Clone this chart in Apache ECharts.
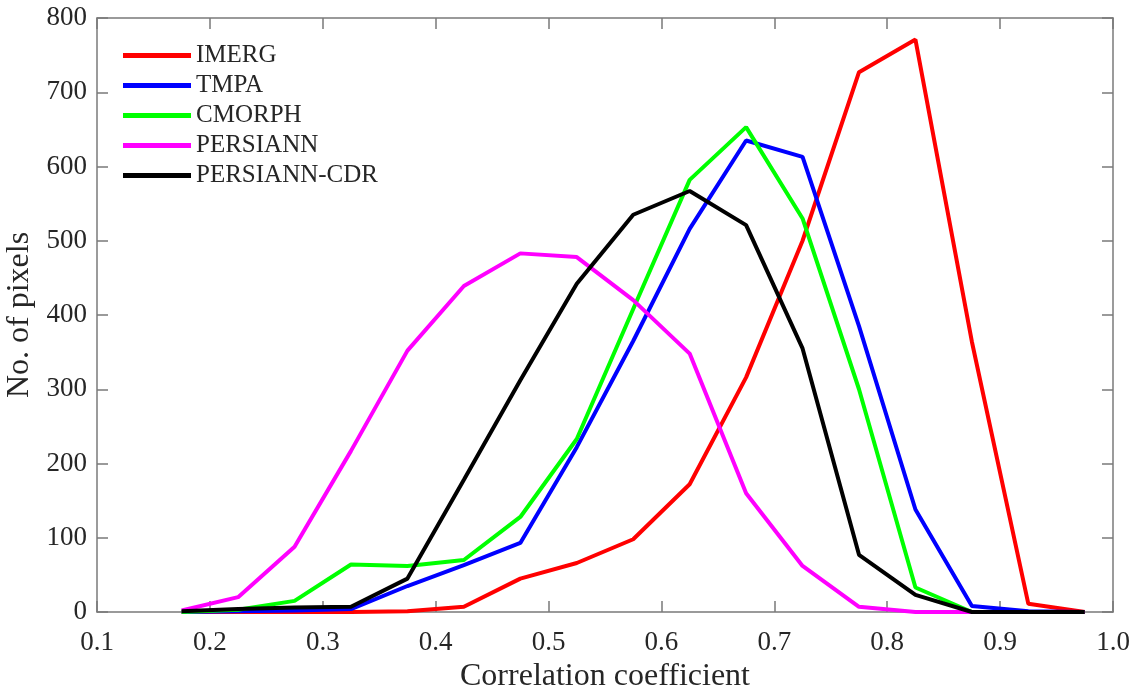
<!DOCTYPE html>
<html>
<head>
<meta charset="UTF-8">
<title>Correlation coefficient</title>
<style>
  html, body { margin: 0; padding: 0; background: #fff; }
  #main { width: 1139px; height: 693px; }
</style>
</head>
<body>
<div id="main"></div>
<script src="https://cdn.jsdelivr.net/npm/echarts@6/dist/echarts.min.js"></script>
<script>
// bin centres
var binCentres = [0.175, 0.225, 0.275, 0.325, 0.375, 0.425, 0.475, 0.525, 0.575,
                  0.625, 0.675, 0.725, 0.775, 0.825, 0.875, 0.925, 0.975];

var seriesNames = ['IMERG', 'TMPA', 'CMORPH', 'PERSIANN', 'PERSIANN-CDR'];
var seriesColors = ['#ff0000', '#0000ff', '#00ff00', '#ff00ff', '#000000'];

var imerg       = [0, 0, 0, 0, 1, 7, 45, 66, 98, 172, 316, 500, 727, 771, 364, 11, 0];
var tmpa        = [0, 1, 2, 4, 35, 63, 93, 222, 365, 516, 635, 613, 385, 138, 8, 1, 0];
var cmorph      = [0, 3, 15, 64, 62, 70, 128, 233, 408, 582, 653, 530, 300, 33, 0, 0, 0];
var persiann    = [2, 20, 88, 217, 352, 439, 483, 478, 420, 348, 160, 62, 7, 0, 0, 0, 0];
var persiannCdr = [1, 4, 6, 7, 45, 178, 312, 442, 535, 567, 521, 355, 77, 23, 0, 0, 0];

var allValues = [imerg, tmpa, cmorph, persiann, persiannCdr];

var serifFont = '"Liberation Serif", "Times New Roman", serif';
var textColor = '#262626';
var boxColor = '#7a7a7a';

function pairs(vals) {
  var out = [];
  for (var i = 0; i < binCentres.length; i++) {
    out.push([binCentres[i], vals[i]]);
  }
  return out;
}

var seriesData = [];
for (var s = 0; s < seriesNames.length; s++) {
  seriesData.push({
    name: seriesNames[s],
    type: 'line',
    symbol: 'none',
    data: pairs(allValues[s]),
    lineStyle: { width: 4, color: seriesColors[s] },
    itemStyle: { color: seriesColors[s] },
    animation: false
  });
}

var axisBase = {
  axisLine: { show: true, onZero: false, lineStyle: { color: boxColor, width: 1.5 } },
  axisTick: { show: true, inside: true, length: 11, lineStyle: { color: boxColor, width: 1.5 } },
  splitLine: { show: false }
};

var myChart = echarts.init(document.getElementById('main'));
var option = {
  backgroundColor: '#fff',
  color: seriesColors,
  grid: { left: 97, right: 26, top: 18, bottom: 81, outerBoundsMode: 'none' },
  legend: {
    orient: 'vertical',
    left: 123,
    top: 43,
    padding: 0,
    icon: 'rect',
    itemWidth: 68,
    itemHeight: 5,
    itemGap: 5,
    data: seriesNames,
    textStyle: { fontFamily: serifFont, fontSize: 25, color: textColor, lineHeight: 25 }
  },
  xAxis: [
    Object.assign({}, axisBase, {
      type: 'value',
      min: 0.1,
      max: 1.0,
      interval: 0.1,
      name: 'Correlation coefficient',
      nameLocation: 'middle',
      nameGap: 35,
      nameTextStyle: { fontFamily: serifFont, fontSize: 32, color: textColor },
      axisLabel: {
        fontFamily: serifFont, fontSize: 27, color: textColor, margin: 17,
        formatter: function (v) { return v.toFixed(1); }
      }
    }),
    Object.assign({}, axisBase, {
      type: 'value', position: 'top', min: 0.1, max: 1.0, interval: 0.1,
      axisLabel: { show: false }
    })
  ],
  yAxis: [
    Object.assign({}, axisBase, {
      type: 'value',
      min: 0,
      max: 800,
      interval: 100,
      name: 'No. of pixels',
      nameLocation: 'middle',
      nameGap: 56,
      nameTextStyle: { fontFamily: serifFont, fontSize: 32, color: textColor },
      axisLabel: { fontFamily: serifFont, fontSize: 27, color: textColor, margin: 10 }
    }),
    Object.assign({}, axisBase, {
      type: 'value', position: 'right', min: 0, max: 800, interval: 100,
      axisLabel: { show: false }
    })
  ],
  series: seriesData
};
myChart.setOption(option);
</script>
</body>
</html>
